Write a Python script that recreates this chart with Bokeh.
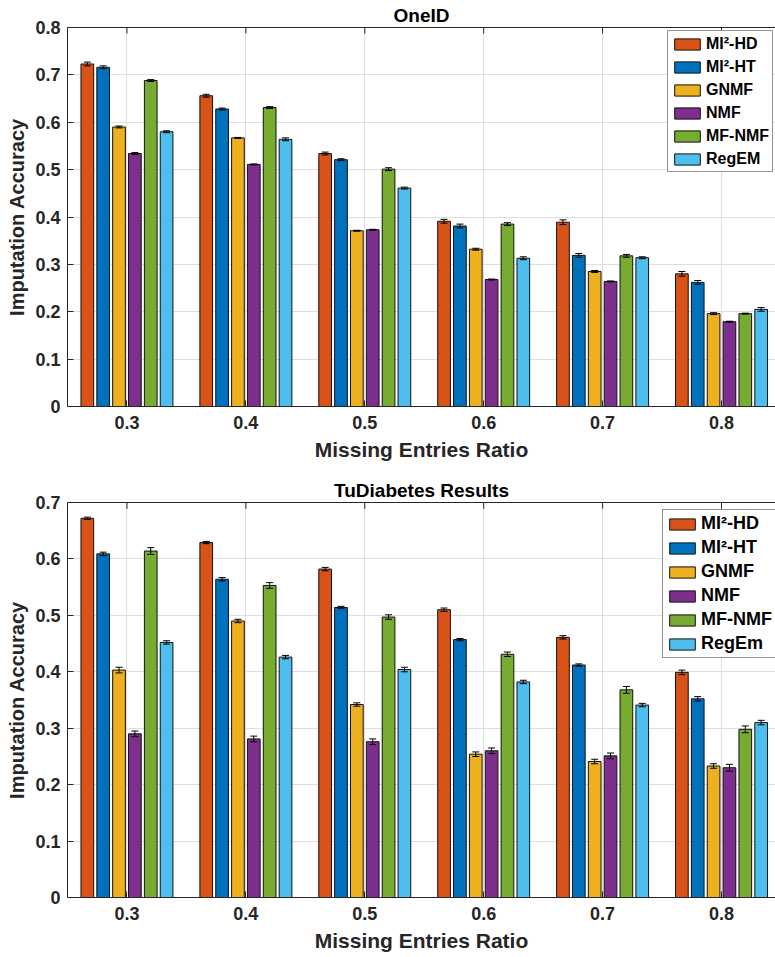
from bokeh.plotting import figure
from bokeh.models import Range1d, FixedTicker, Whisker, TeeHead, ColumnDataSource, LinearAxis
from bokeh.layouts import column
from bokeh.embed import file_html
from bokeh.resources import INLINE

ratios = ["0.3", "0.4", "0.5", "0.6", "0.7", "0.8"]
methods_top = ["MI\u00b2-HD", "MI\u00b2-HT", "GNMF", "NMF", "MF-NMF", "RegEM"]
methods_bot = ["MI\u00b2-HD", "MI\u00b2-HT", "GNMF", "NMF", "MF-NMF", "RegEm"]
colors = ["#D95319", "#0072BD", "#EDB120", "#7E2F8E", "#77AC30", "#4DBEEE"]

# OneID
oneid_hd = [0.723, 0.656, 0.534, 0.391, 0.389, 0.280]
oneid_ht = [0.716, 0.628, 0.521, 0.381, 0.319, 0.262]
oneid_gnmf = [0.590, 0.567, 0.371, 0.332, 0.285, 0.196]
oneid_nmf = [0.534, 0.511, 0.373, 0.268, 0.264, 0.179]
oneid_mfnmf = [0.688, 0.631, 0.501, 0.385, 0.318, 0.196]
oneid_regem = [0.580, 0.564, 0.461, 0.313, 0.314, 0.205]
oneid_hd_err = [0.004, 0.003, 0.003, 0.004, 0.005, 0.005]
oneid_ht_err = [0.003, 0.002, 0.002, 0.004, 0.004, 0.004]
oneid_gnmf_err = [0.002, 0.001, 0.001, 0.002, 0.002, 0.002]
oneid_nmf_err = [0.002, 0.001, 0.001, 0.001, 0.001, 0.001]
oneid_mfnmf_err = [0.002, 0.002, 0.003, 0.003, 0.003, 0.001]
oneid_regem_err = [0.002, 0.003, 0.002, 0.003, 0.002, 0.004]

# TuDiabetes
tud_hd = [0.672, 0.629, 0.582, 0.510, 0.461, 0.399]
tud_ht = [0.609, 0.564, 0.514, 0.457, 0.412, 0.352]
tud_gnmf = [0.403, 0.490, 0.342, 0.254, 0.241, 0.233]
tud_nmf = [0.290, 0.281, 0.276, 0.260, 0.251, 0.230]
tud_mfnmf = [0.614, 0.553, 0.497, 0.431, 0.368, 0.298]
tud_regem = [0.452, 0.426, 0.404, 0.382, 0.341, 0.310]
tud_hd_err = [0.002, 0.002, 0.003, 0.003, 0.003, 0.004]
tud_ht_err = [0.003, 0.003, 0.002, 0.002, 0.002, 0.004]
tud_gnmf_err = [0.005, 0.003, 0.003, 0.004, 0.004, 0.004]
tud_nmf_err = [0.005, 0.005, 0.005, 0.005, 0.005, 0.006]
tud_mfnmf_err = [0.006, 0.005, 0.004, 0.004, 0.006, 0.006]
tud_regem_err = [0.003, 0.003, 0.004, 0.003, 0.003, 0.004]

yticks_top = [0, 0.1, 0.2, 0.3, 0.4, 0.5, 0.6, 0.7, 0.8]
yticks_bot = [0, 0.1, 0.2, 0.3, 0.4, 0.5, 0.6, 0.7]

FONT = "Liberation Sans"
AX = "#262626"
XR = (0.5, 6.454)


def make(title, series, errs, names, yticks, height, top_b, bot_b, title_gap,
         leg_font, leg_spacing, leg_loc):
    n = len(ratios)
    xs = list(range(1, n + 1))
    ymax = yticks[-1]
    p = figure(width=775, height=height, x_range=Range1d(*XR),
               y_range=Range1d(0, ymax), output_backend="svg",
               toolbar_location=None, min_border_left=67, min_border_right=0,
               min_border_top=top_b, min_border_bottom=bot_b,
               outline_line_color=None, background_fill_color="white")

    nb = len(series)
    pitch = 0.8 / nb
    for k, (vals, err, name, col) in enumerate(zip(series, errs, names, colors)):
        x = [xi + (k - (nb - 1) / 2) * pitch for xi in xs]
        src = ColumnDataSource(dict(x=x, top=vals,
                                    upper=[v + e for v, e in zip(vals, err)],
                                    lower=[v - e for v, e in zip(vals, err)]))
        p.vbar(x="x", top="top", bottom=0, width=pitch * 0.8, source=src,
               fill_color=col, line_color="#111111", line_width=1, legend_label=name)
        w = Whisker(base="x", upper="upper", lower="lower", source=src,
                    line_color="black", line_width=1,
                    upper_head=TeeHead(size=7, line_color="black", line_width=1),
                    lower_head=TeeHead(size=7, line_color="black", line_width=1),
                    level="annotation")
        p.add_layout(w)

    xt = FixedTicker(ticks=xs)
    yt = FixedTicker(ticks=yticks)
    xa = p.xaxis[0]
    xa.ticker = xt
    xa.major_label_overrides = {i + 1: r for i, r in enumerate(ratios)}
    xa.axis_label = "Missing Entries Ratio"
    ya = p.yaxis[0]
    ya.ticker = yt
    ya.major_label_overrides = {0: "0"}
    ya.axis_label = "Imputation Accuracy"
    for a in (xa, ya):
        a.major_tick_in = 6
        a.major_tick_out = 0
        a.minor_tick_line_color = None
        a.axis_line_color = AX
        a.major_tick_line_color = AX
        a.major_label_text_font = FONT
        a.major_label_text_font_size = "18px"
        a.major_label_text_font_style = "bold"
        a.major_label_text_color = AX
        a.axis_label_text_font = FONT
        a.axis_label_text_font_style = "bold"
        a.axis_label_text_color = AX
    xa.axis_label_text_font_size = "21px"
    ya.axis_label_text_font_size = "20px"
    xa.major_label_standoff = 9
    xa.axis_label_standoff = 6
    ya.major_label_standoff = 7
    ya.axis_label_standoff = 4

    # top box edge (axis without ticks) carrying the chart title
    top_ax = LinearAxis(ticker=FixedTicker(ticks=[]), major_tick_in=0, major_tick_out=0,
                        major_label_standoff=0, minor_tick_line_color=None,
                        axis_line_color=AX, axis_label=title,
                        axis_label_standoff=title_gap, axis_label_text_font=FONT,
                        axis_label_text_font_size="19px",
                        axis_label_text_font_style="bold",
                        axis_label_text_color="black")
    p.add_layout(top_ax, "above")
    # inward tick marks on the top edge at the group positions
    p.segment(x0=xs, y0=[ymax] * n, x1=xs, y1=[ymax * 0.984] * n,
              line_color=AX, line_width=1)

    p.xgrid.ticker = xt
    p.ygrid.ticker = yt
    p.xgrid.grid_line_color = "#dedede"
    p.ygrid.grid_line_color = "#dedede"

    lg = p.legend[0]
    lg.location = leg_loc
    lg.label_text_font = FONT
    lg.label_text_font_size = leg_font
    lg.label_text_font_style = "bold"
    lg.label_text_color = "black"
    lg.glyph_width = 32
    lg.glyph_height = 14
    lg.label_height = 19
    lg.label_standoff = 3
    lg.spacing = leg_spacing
    lg.padding = 3
    lg.margin = 0
    lg.border_line_color = AX
    lg.border_line_width = 1
    lg.background_fill_alpha = 1
    return p


p1 = make("OneID",
          [oneid_hd, oneid_ht, oneid_gnmf, oneid_nmf, oneid_mfnmf, oneid_regem],
          [oneid_hd_err, oneid_ht_err, oneid_gnmf_err, oneid_nmf_err, oneid_mfnmf_err, oneid_regem_err],
          methods_top, yticks_top, 475, 27, 69, 2, "16px", 4, (600, 234))
p2 = make("TuDiabetes Results",
          [tud_hd, tud_ht, tud_gnmf, tud_nmf, tud_mfnmf, tud_regem],
          [tud_hd_err, tud_ht_err, tud_gnmf_err, tud_nmf_err, tud_mfnmf_err, tud_regem_err],
          methods_bot, yticks_bot, 482, 27, 60, 2, "18px", 3, (595, 239))

layout = column(p1, p2, spacing=0)
open("out.html", "w").write(file_html(layout, INLINE))
